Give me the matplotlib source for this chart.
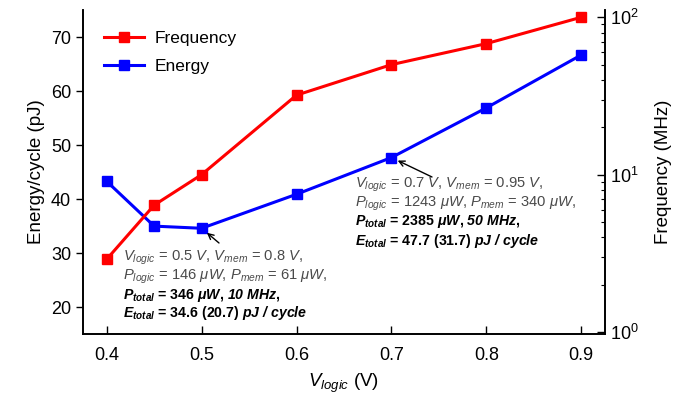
import numpy as np
import matplotlib
matplotlib.use("Agg")
import matplotlib.pyplot as plt

plt.rcParams['font.family'] = ['Liberation Sans', 'DejaVu Sans']
plt.rcParams['mathtext.fontset'] = 'custom'
plt.rcParams['mathtext.rm'] = 'Liberation Sans'
plt.rcParams['mathtext.it'] = 'Liberation Sans:italic'
plt.rcParams['mathtext.bf'] = 'Liberation Sans:bold'
plt.rcParams['mathtext.bfit'] = 'Liberation Sans:bold:italic'

# data
v_logic = [0.4, 0.45, 0.5, 0.6, 0.7, 0.8, 0.9]
energy = [43.3, 35.0, 34.6, 40.9, 47.7, 56.9, 66.7]      # pJ/cycle
frequency = [2.9, 6.4, 10.0, 32.0, 50.0, 68.0, 100.0]    # MHz

fig = plt.figure(figsize=(6.97, 4.05), dpi=100)
ax = fig.add_axes([0.119, 0.175, 0.749, 0.80])
ax2 = ax.twinx()

l_e, = ax.plot(v_logic, energy, '-s', color='#0000ff', lw=2.2, ms=7, label='Energy', zorder=3)
l_f, = ax2.plot(v_logic, frequency, '-s', color='#ff0000', lw=2.2, ms=7, label='Frequency', zorder=3)

ax.set_xlim(0.375, 0.925)
ax.set_ylim(15, 75)
ax.set_xticks([0.4, 0.5, 0.6, 0.7, 0.8, 0.9])
ax.set_yticks([20, 30, 40, 50, 60, 70])
ax2.set_yscale('log')
ax2.set_ylim(0.97, 111)

for a in (ax, ax2):
    a.spines['top'].set_visible(False)
    for s in a.spines.values():
        s.set_linewidth(1.2)
ax.tick_params(axis='y', direction='out', length=5, width=1, labelsize=13)
ax.tick_params(axis='x', direction='in', length=6, width=1, labelsize=13, pad=9)
ax2.tick_params(axis='y', which='major', direction='in', length=6, width=1, labelsize=13)
ax2.tick_params(axis='y', which='minor', direction='in', length=3, width=0.8)

ax.set_ylabel('Energy/cycle (pJ)', fontsize=13.5)
ax2.set_ylabel('Frequency (MHz)', fontsize=13.5, labelpad=12)
ax.set_xlabel(r'$V_{logic}$ (V)', fontsize=13.5, labelpad=6)

ax2.legend(handles=[l_f, l_e], loc='upper left', bbox_to_anchor=(0.01, 0.985),
           frameon=False, fontsize=12.5, handlelength=2.3, labelspacing=0.75,
           handletextpad=0.6)

gray = '#4a4a4a'
fs = 10.6
# annotation at 0.5 V
t1 = [r'$V_{logic}$ = 0.5 $V$, $V_{mem}$ = 0.8 $V$,',
      r'$P_{logic}$ = 146 $\mu W$, $P_{mem}$ = 61 $\mu W$,']
b1 = [r'$\mathbfit{P_{total}}$ = 346 $\mathbfit{\mu W}$, $\mathbfit{10\ MHz}$,',
      r'$\mathbfit{E_{total}}$ = 34.6 (20.7) $\mathbfit{pJ\ /\ cycle}$']
# annotation at 0.7 V
t2 = [r'$V_{logic}$ = 0.7 $V$, $V_{mem}$ = 0.95 $V$,',
      r'$P_{logic}$ = 1243 $\mu W$, $P_{mem}$ = 340 $\mu W$,']
b2 = [r'$\mathbfit{P_{total}}$ = 2385 $\mathbfit{\mu W}$, $\mathbfit{50\ MHz}$,',
      r'$\mathbfit{E_{total}}$ = 47.7 (31.7) $\mathbfit{pJ\ /\ cycle}$']

def block(x, y, lines_gray, lines_bold):
    dy = 18.5
    for i, s in enumerate(lines_gray):
        ax.text(x, y - i * dy, s, transform=None, fontsize=fs, color=gray, va='center')
    for i, s in enumerate(lines_bold):
        ax.text(x, y - (i + 2) * dy, s, transform=None, fontsize=fs - 0.4, color='black',
                fontweight='bold', va='center')

H = 405
block(123, H - 258, t1, b1)
block(355, H - 185, t2, b2)

ax.annotate('', xy=(0.5, 34.6), xytext=(219, H - 243), textcoords='figure pixels',
            arrowprops=dict(arrowstyle='->', color='black', lw=1, shrinkA=0, shrinkB=5))
ax.annotate('', xy=(0.7, 47.7), xytext=(432, H - 177), textcoords='figure pixels',
            arrowprops=dict(arrowstyle='->', color='black', lw=1, shrinkA=0, shrinkB=5))

fig.savefig('out.png', dpi=100)
